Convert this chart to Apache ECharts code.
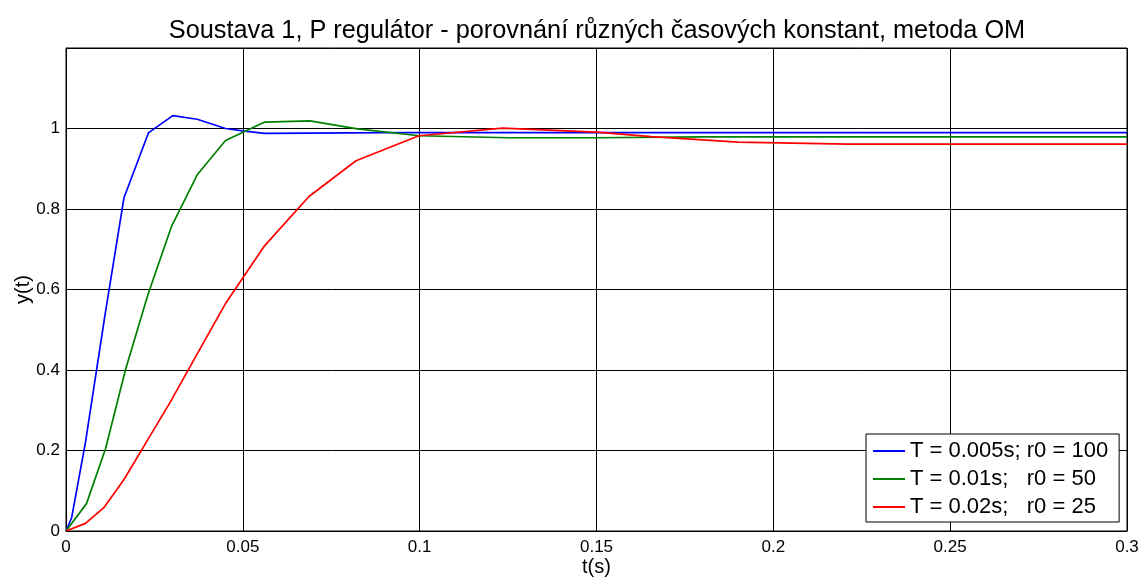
<!DOCTYPE html>
<html>
<head>
<meta charset="utf-8">
<script src="https://cdn.jsdelivr.net/npm/echarts@6/dist/echarts.min.js"></script>
<style>
html,body{margin:0;padding:0;background:#fff;}
#chart{width:1148px;height:578px;}
</style>
</head>
<body>
<div id="chart"></div>
<script>
var titleText = 'Soustava 1, P regulátor - porovnání různých časových konstant, metoda OM';
var seriesNames = ['T = 0.005s; r0 = 100', 'T = 0.01s;   r0 = 50', 'T = 0.02s;   r0 = 25'];

var tBlue = [0, 0.0016, 0.0055, 0.011, 0.0164, 0.0233, 0.0302, 0.0371, 0.0451, 0.0499, 0.0562, 0.08, 0.1, 0.15, 0.2, 0.25, 0.3];
var yBlue = [0, 0.033, 0.22, 0.535, 0.828, 0.989, 1.032, 1.023, 1.0, 0.994, 0.988, 0.989, 0.990, 0.990, 0.990, 0.990, 0.990];

var tGreen = [0, 0.0058, 0.0112, 0.0168, 0.0232, 0.0298, 0.0371, 0.0451, 0.0562, 0.069, 0.0824, 0.0998, 0.125, 0.15, 0.18, 0.22, 0.3];
var yGreen = [0, 0.068, 0.205, 0.40, 0.588, 0.756, 0.885, 0.970, 1.016, 1.019, 0.999, 0.982, 0.977, 0.977, 0.979, 0.979, 0.979];

var tRed = [0, 0.0055, 0.0107, 0.0164, 0.0228, 0.0296, 0.0371, 0.0451, 0.056, 0.0687, 0.082, 0.0998, 0.1234, 0.15, 0.1655, 0.19, 0.221, 0.26, 0.3];
var yRed = [0, 0.019, 0.058, 0.128, 0.222, 0.322, 0.440, 0.565, 0.707, 0.831, 0.920, 0.982, 1.001, 0.991, 0.980, 0.966, 0.961, 0.961, 0.961];

var xTicks = [0, 0.05, 0.1, 0.15, 0.2, 0.25, 0.3];
var yTickLabels = ['0', '0.2', '0.4', '0.6', '0.8', '1'];

function pairs(t, y) { return t.map(function (v, i) { return [v, y[i]]; }); }

var chart = echarts.init(document.getElementById('chart'), null, {renderer: 'canvas'});
var FONT = 'Liberation Sans, Arial, sans-serif';
var option = {
  animation: false,
  backgroundColor: '#fff',
  title: {
    text: titleText,
    left: 592,
    textAlign: 'center',
    top: 14,
    textStyle: {fontFamily: FONT, fontSize: 25.3, fontWeight: 'normal', color: '#000'}
  },
  grid: {left: 66, right: 21, top: 48, bottom: 47, show: true, borderColor: '#000', borderWidth: 1,
         backgroundColor: 'transparent', containLabel: false, outerBoundsMode: 'none'},
  legend: {
    orient: 'vertical',
    left: 866,
    top: 434,
    padding: [6, 11, 4, 7],
    itemWidth: 32,
    itemHeight: 2,
    itemGap: 6,
    icon: 'rect',
    borderColor: '#000',
    borderWidth: 1,
    backgroundColor: '#fff',
    textStyle: {fontFamily: FONT, fontSize: 22, color: '#000', lineHeight: 22},
    data: seriesNames
  },
  xAxis: {
    type: 'value', min: 0, max: 0.3, interval: 0.05,
    name: 't(s)', nameLocation: 'middle', nameGap: 26, nameMoveOverlap: false,
    nameTextStyle: {fontFamily: FONT, fontSize: 20, color: '#000'},
    axisLine: {show: true, lineStyle: {color: '#000', width: 1}},
    axisTick: {show: true, inside: true, length: 5, lineStyle: {color: '#000'}},
    axisLabel: {fontFamily: FONT, fontSize: 17, color: '#000', margin: 8,
      formatter: function (v) { var r = Math.round(v * 1000) / 1000; return xTicks.indexOf(r) >= 0 ? String(r) : ''; }},
    splitLine: {show: true, lineStyle: {color: '#000', width: 1}}
  },
  yAxis: {
    type: 'value', min: 0, max: 1.2, interval: 0.2,
    name: 'y(t)', nameLocation: 'middle', nameGap: 33, nameMoveOverlap: false,
    nameTextStyle: {fontFamily: FONT, fontSize: 20, color: '#000'},
    axisLine: {show: true, lineStyle: {color: '#000', width: 1}},
    axisTick: {show: true, inside: true, length: 5, lineStyle: {color: '#000'}},
    axisLabel: {fontFamily: FONT, fontSize: 17, color: '#000', margin: 6,
      formatter: function (v) { var i = Math.round(v / 0.2); return i < yTickLabels.length ? yTickLabels[i] : ''; }},
    splitLine: {show: true, lineStyle: {color: '#000', width: 1}}
  },
  series: [
    {name: seriesNames[0], type: 'line', data: pairs(tBlue, yBlue), symbol: 'none', color: '#0000ff', lineStyle: {width: 1.7, color: '#0000ff'}},
    {name: seriesNames[1], type: 'line', data: pairs(tGreen, yGreen), symbol: 'none', color: '#008000', lineStyle: {width: 1.7, color: '#008000'}},
    {name: seriesNames[2], type: 'line', data: pairs(tRed, yRed), symbol: 'none', color: '#ff0000', lineStyle: {width: 1.7, color: '#ff0000'}}
  ]
};
chart.setOption(option);
</script>
</body>
</html>
